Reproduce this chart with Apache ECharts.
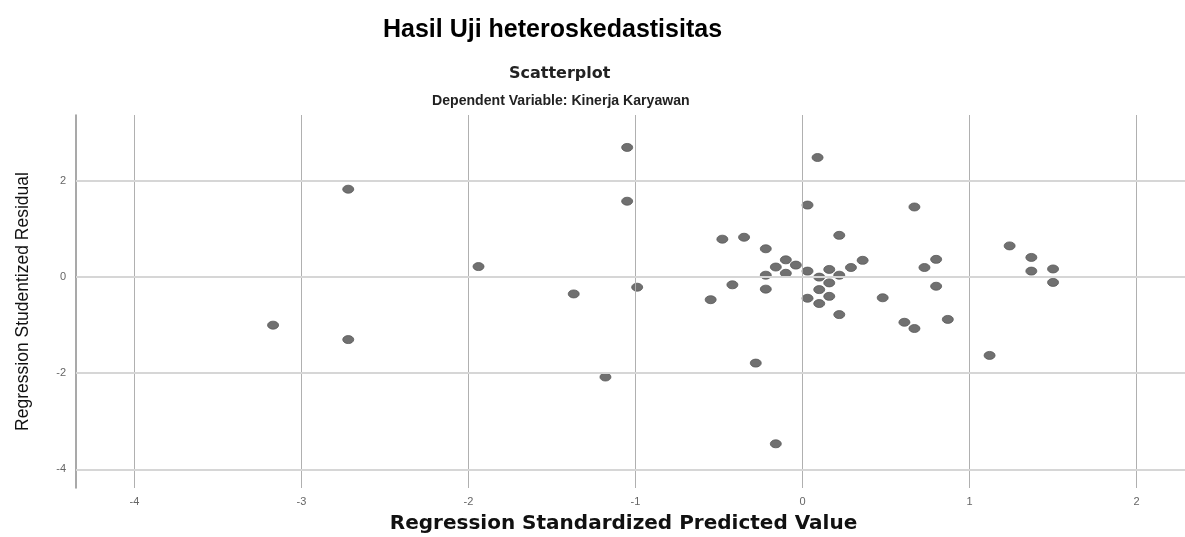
<!DOCTYPE html>
<html lang="id">
<head>
  <meta charset="UTF-8">
  <title>scatter</title>
  <style>
    * { padding: 0; margin: 0; }
    #charts { width: 1185px; height: 537px; background: #fff; }
  </style>
</head>
<body>
  <div id="charts"></div>
</body>
<script src="https://cdn.jsdelivr.net/npm/echarts@6/dist/echarts.min.js"></script>
<script type="text/javascript">
  // Regression Standardized Predicted Value (x) / Studentized Residual (y)
  var predicted = [-3.17, -2.72, -2.72, -1.94, -1.37, -1.18, -1.05, -1.05, -0.99, -0.55,
    -0.48, -0.42, -0.35, -0.28, -0.22, -0.22, -0.22, -0.16, -0.16, -0.10,
    -0.10, -0.04, 0.03, 0.03, 0.03, 0.09, 0.10, 0.10, 0.10, 0.16,
    0.16, 0.16, 0.22, 0.22, 0.22, 0.29, 0.36, 0.48, 0.61, 0.67,
    0.67, 0.73, 0.80, 0.80, 0.87, 1.12, 1.24, 1.37, 1.37, 1.50, 1.50]
  var residual = [-1.00, 1.83, -1.30, 0.22, -0.35, -2.08, 2.70, 1.58, -0.21, -0.47,
    0.79, -0.16, 0.83, -1.79, 0.59, 0.04, -0.25, 0.21, -3.47, 0.36,
    0.08, 0.25, 1.50, 0.125, -0.44, 2.49, 0.00, -0.26, -0.55, 0.16,
    -0.12, -0.40, 0.87, 0.04, -0.78, 0.20, 0.35, -0.43, -0.94, 1.46,
    -1.07, 0.20, 0.37, -0.19, -0.88, -1.63, 0.65, 0.41, 0.125, 0.17, -0.11]
  var xTicks = [-4, -3, -2, -1, 0, 1, 2]
  var yTicks = [-4, -2, 0, 2]

  var myChart = echarts.init(document.getElementById('charts'))

  var points = []
  for (var i = 0; i < predicted.length; i++) {
    points.push([predicted[i], residual[i]])
  }
  var gridLines = []
  xTicks.forEach(function (v) {
    gridLines.push({ xAxis: v, lineStyle: { color: '#b0b0b0', width: 1, type: 'solid' } })
  })
  yTicks.forEach(function (v) {
    gridLines.push({ yAxis: v, lineStyle: { color: '#d6d6d6', width: 2, type: 'solid' } })
  })

  var option = {
    backgroundColor: '#fff',
    animation: false,
    title: [
      {
        text: 'Hasil Uji heteroskedastisitas',
        left: 383, top: 18, padding: 0,
        textStyle: { fontFamily: 'Liberation Sans', fontSize: 25, fontWeight: 'bold', color: '#000' }
      },
      {
        text: 'Scatterplot',
        left: 509, top: 66, padding: 0,
        textStyle: { fontFamily: 'DejaVu Sans', fontSize: 16, fontWeight: 'bold', color: '#222' }
      },
      {
        text: 'Dependent Variable: Kinerja Karyawan',
        left: 432, top: 94, padding: 0,
        textStyle: { fontFamily: 'Liberation Sans', fontSize: 14.1, fontWeight: 'bold', color: '#222' }
      }
    ],
    grid: { left: 76, right: 0, top: 115, bottom: 49, outerBoundsMode: 'none' },
    xAxis: {
      type: 'value',
      min: -4.35, max: 2.29,
      name: 'Regression Standardized Predicted Value',
      nameLocation: 'middle',
      nameGap: 26,
      nameTextStyle: { fontFamily: 'DejaVu Sans', fontSize: 20, fontWeight: 'bold', color: '#111', padding: [0, 14, 0, 0] },
      axisLine: { show: true, lineStyle: { color: '#8c8c8c', width: 1.5 } },
      axisTick: { show: false },
      splitLine: { show: false },
      axisLabel: { customValues: xTicks, color: '#666', fontSize: 11, fontFamily: 'Liberation Sans', margin: 8 }
    },
    yAxis: {
      type: 'value',
      min: -4.39, max: 3.375,
      name: 'Regression Studentized Residual',
      nameLocation: 'middle',
      nameRotate: 90,
      nameGap: 44,
      nameTextStyle: { fontFamily: 'Liberation Sans', fontSize: 17.5, color: '#111' },
      axisLine: { show: true, onZero: false, lineStyle: { color: '#8c8c8c', width: 1.5 } },
      axisTick: { show: false },
      splitLine: { show: false },
      axisLabel: { customValues: yTicks, color: '#666', fontSize: 11, fontFamily: 'Liberation Sans', margin: 10 }
    },
    series: [
      {
        type: 'line',
        data: [],
        z: 1,
        silent: true,
        markLine: {
          silent: true,
          symbol: 'none',
          label: { show: false },
          data: gridLines
        }
      },
      {
        type: 'scatter',
        z: 3,
        symbol: 'circle',
        symbolSize: [11, 8],
        itemStyle: { color: '#707070', borderColor: '#5a5a5a', borderWidth: 0.8, opacity: 1 },
        data: points
      }
    ]
  }
  myChart.setOption(option)
</script>
</html>
